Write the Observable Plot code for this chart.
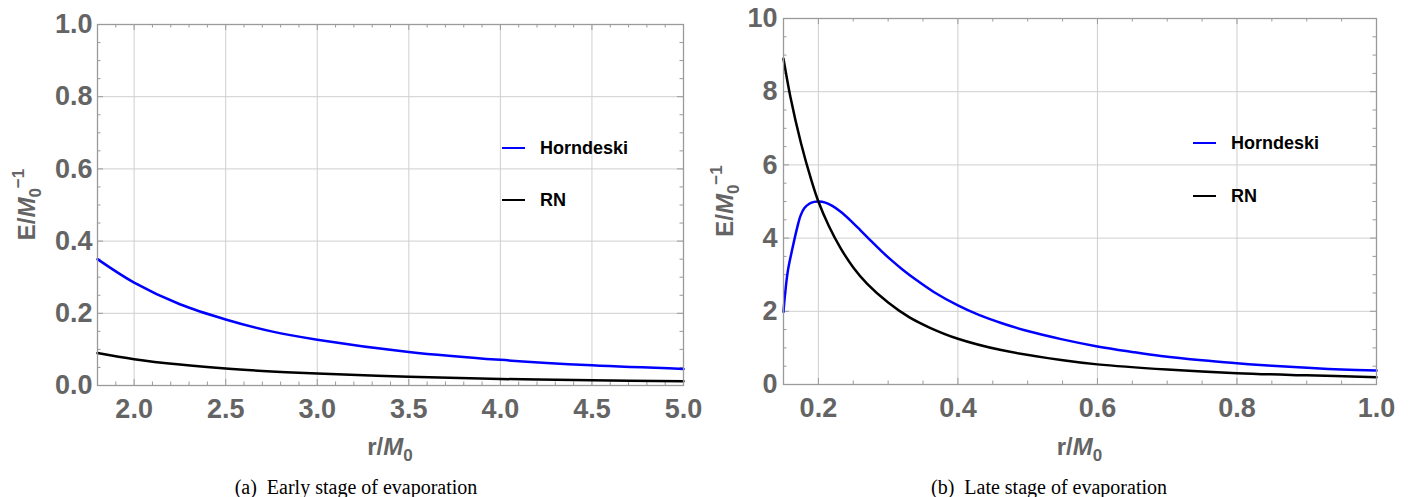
<!DOCTYPE html>
<html><head><meta charset="utf-8">
<script src="https://cdn.jsdelivr.net/npm/d3@7"></script>
<script src="https://cdn.jsdelivr.net/npm/@observablehq/plot@0.6"></script>
<style>
html,body{margin:0;padding:0;background:#fff;}
#wrap{position:relative;width:1411px;height:497px;overflow:hidden;background:#fff;}
#wrap svg{position:absolute;top:0;}
</style></head><body><div id="wrap"></div>
<script>
// ---- Data ----
const series = ["Horndeski", "RN"];
const seriesColors = ["#0000ff", "#000000"];

// Panel (a): early stage
const earlyR = [1.8, 2.0, 2.25, 2.5, 2.75, 3.0, 3.5, 4.0, 4.5, 5.0];
const earlyHorndeski = [0.350, 0.285, 0.225, 0.183, 0.150, 0.127, 0.093, 0.071, 0.056, 0.046];
const earlyRN = [0.090, 0.073, 0.058, 0.047, 0.039, 0.033, 0.024, 0.018, 0.0145, 0.012];

// Panel (b): late stage
const lateHornR = [0.150, 0.152, 0.1563, 0.1626, 0.1698, 0.1746, 0.180, 0.187, 0.194, 0.200, 0.210, 0.220, 0.232, 0.245, 0.260, 0.275, 0.290, 0.305, 0.320, 0.340, 0.366, 0.400, 0.430, 0.462, 0.500, 0.548, 0.600, 0.650, 0.691, 0.750, 0.800, 0.850, 0.907, 0.950, 1.000];
const lateHorndeski = [1.98, 2.42, 3.11, 3.70, 4.30, 4.62, 4.82, 4.94, 4.99, 5.00, 4.97, 4.88, 4.72, 4.50, 4.22, 3.93, 3.65, 3.39, 3.15, 2.86, 2.52, 2.16, 1.90, 1.68, 1.46, 1.24, 1.04, 0.89, 0.78, 0.66, 0.58, 0.51, 0.45, 0.41, 0.38];
const lateRNR = [0.150, 0.160, 0.175, 0.190, 0.200, 0.215, 0.232, 0.250, 0.270, 0.300, 0.330, 0.360, 0.400, 0.462, 0.548, 0.600, 0.700, 0.800, 0.900, 1.000];
const lateRN = [8.90, 7.85, 6.60, 5.58, 5.00, 4.33, 3.72, 3.20, 2.75, 2.24, 1.84, 1.55, 1.25, 0.94, 0.67, 0.55, 0.41, 0.31, 0.25, 0.20];

// Ticks
const earlyXTicks = [2.0, 2.5, 3.0, 3.5, 4.0, 4.5, 5.0];
const earlyYTicks = [0.0, 0.2, 0.4, 0.6, 0.8, 1.0];
const lateXTicks = [0.2, 0.4, 0.6, 0.8, 1.0];
const lateYTicks = [0, 2, 4, 6, 8, 10];

const captions = ["(a)\u2002Early stage of evaporation", "(b)\u2002Late stage of evaporation"];

// ---- Helpers ----
const zip = (xs, ys) => xs.map((r, i) => ({r, E: ys[i]}));
const FONT = "'Liberation Sans', Arial, Helvetica, sans-serif";
const GRAY = "#646464";
const FRAME = "#9a9a9a";
const GRID = "#cfcfcf";

function minorRange(lo, hi, step, majors) {
  const out = [];
  const n = Math.round((hi - lo) / step);
  for (let i = 0; i <= n; i++) {
    const v = +(lo + i * step).toFixed(6);
    if (!majors.some(m => Math.abs(m - v) < 1e-9)) out.push(v);
  }
  return out;
}

function panel(cfg) {
  const {width, height, margin, xDomain, yDomain, xTicks, yTicks, xMinor, yMinor, xFmt, yFmt, lines} = cfg;
  const innerW = width - margin.left - margin.right;
  const innerH = height - margin.top - margin.bottom;
  const major = 6, minor = 3.5;
  const tickStyle = {stroke: FRAME, strokeWidth: 1};
  const svg = Plot.plot({
    width, height,
    marginLeft: margin.left, marginRight: margin.right, marginTop: margin.top, marginBottom: margin.bottom,
    style: {fontFamily: FONT, background: "white", overflow: "visible"},
    x: {domain: xDomain},
    y: {domain: yDomain},
    marks: [
      Plot.gridX(xTicks, {stroke: GRID, strokeOpacity: 1, strokeWidth: 1}),
      Plot.gridY(yTicks, {stroke: GRID, strokeOpacity: 1, strokeWidth: 1}),
      // inward ticks on all four sides
      Plot.tickX(xTicks, {x: d => d, insetTop: innerH - major, ...tickStyle}),
      Plot.tickX(xMinor, {x: d => d, insetTop: innerH - minor, ...tickStyle}),
      Plot.tickX(xTicks, {x: d => d, insetBottom: innerH - major, ...tickStyle}),
      Plot.tickX(xMinor, {x: d => d, insetBottom: innerH - minor, ...tickStyle}),
      Plot.tickY(yTicks, {y: d => d, insetRight: innerW - major, ...tickStyle}),
      Plot.tickY(yMinor, {y: d => d, insetRight: innerW - minor, ...tickStyle}),
      Plot.tickY(yTicks, {y: d => d, insetLeft: innerW - major, ...tickStyle}),
      Plot.tickY(yMinor, {y: d => d, insetLeft: innerW - minor, ...tickStyle}),
      ...lines.map((l, i) => Plot.line(l, {x: "r", y: "E", stroke: seriesColors[i], strokeWidth: 2.5, curve: "catmull-rom"})),
      Plot.frame({stroke: FRAME, strokeWidth: 1.3}),
      Plot.axisX(xTicks, {tickSize: 0, tickPadding: 13, fontSize: 27, fontWeight: "bold", fill: GRAY, tickFormat: xFmt, label: null}),
      Plot.axisY(yTicks, {tickSize: 0, tickPadding: cfg.yPad, fontSize: 27, fontWeight: "bold", fill: GRAY, tickFormat: yFmt, label: null})
    ]
  });
  const s = d3.select(svg);
  const cx = margin.left + innerW / 2;
  const cy = margin.top + innerH / 2;

  // y label: E/M0^-1 (rotated)
  const yl = s.append("text")
    .attr("transform", `translate(${cfg.yLabelX},${cy}) rotate(-90)`)
    .attr("text-anchor", "middle").attr("font-family", FONT).attr("font-weight", "bold")
    .attr("font-size", 24).attr("fill", GRAY);
  yl.append("tspan").text("E/");
  yl.append("tspan").attr("font-style", "italic").text("M");
  yl.append("tspan").attr("font-size", 17).attr("dy", 6).text("0");
  yl.append("tspan").attr("font-size", 17).attr("dy", -17).text("\u22121");

  // x label: r/M0
  const xl = s.append("text")
    .attr("x", cx).attr("y", 455)
    .attr("text-anchor", "middle").attr("font-family", FONT).attr("font-weight", "bold")
    .attr("font-size", 24).attr("fill", GRAY);
  xl.append("tspan").text("r/");
  xl.append("tspan").attr("font-style", "italic").text("M");
  xl.append("tspan").attr("font-size", 17).attr("dy", 6).text("0");

  // legend
  series.forEach((name, i) => {
    const y = cfg.legend.y[i];
    s.append("line").attr("x1", cfg.legend.x).attr("x2", cfg.legend.x + 23)
      .attr("y1", y).attr("y2", y).attr("stroke", seriesColors[i]).attr("stroke-width", 2);
    s.append("text").attr("x", cfg.legend.x + 38).attr("y", y).attr("dy", "0.35em")
      .attr("text-anchor", "start")
      .attr("font-family", FONT).attr("font-weight", "bold").attr("font-size", 18)
      .attr("fill", "#000").text(name);
  });

  // caption
  s.append("text").attr("x", cfg.captionX).attr("y", 494).attr("text-anchor", "middle")
    .attr("font-family", "'Liberation Serif', 'Times New Roman', serif").attr("font-size", 20)
    .attr("fill", "#000").text(cfg.caption);
  return svg;
}

const wrap = document.getElementById("wrap");

const left = panel({
  width: 705, height: 497,
  margin: {left: 97, right: 22, top: 24, bottom: 112},
  xDomain: [1.8, 5.0], yDomain: [0, 1],
  xTicks: earlyXTicks, yTicks: earlyYTicks,
  xMinor: minorRange(1.8, 5.0, 0.1, earlyXTicks),
  yMinor: minorRange(0, 1, 0.05, earlyYTicks),
  xFmt: d3.format(".1f"), yFmt: d3.format(".1f"), yPad: 5,
  lines: [zip(earlyR, earlyHorndeski), zip(earlyR, earlyRN)],
  yLabelX: 35,
  legend: {x: 502, y: [148, 200]},
  caption: captions[0], captionX: 356
});
left.style.left = "0px";
wrap.appendChild(left);

const right = panel({
  width: 706, height: 497,
  margin: {left: 78, right: 35, top: 18, bottom: 113},
  xDomain: [0.15, 1.0], yDomain: [0, 10],
  xTicks: lateXTicks, yTicks: lateYTicks,
  xMinor: minorRange(0.15, 1.0, 0.05, lateXTicks),
  yMinor: minorRange(0, 10, 0.5, lateYTicks),
  xFmt: d3.format(".1f"), yFmt: d3.format("d"), yPad: 6,
  lines: [zip(lateHornR, lateHorndeski), zip(lateRNR, lateRN)],
  yLabelX: 28,
  legend: {x: 488, y: [143, 196]},
  caption: captions[1], captionX: 344
});
right.style.left = "705px";
wrap.appendChild(right);
</script>
</body></html>
